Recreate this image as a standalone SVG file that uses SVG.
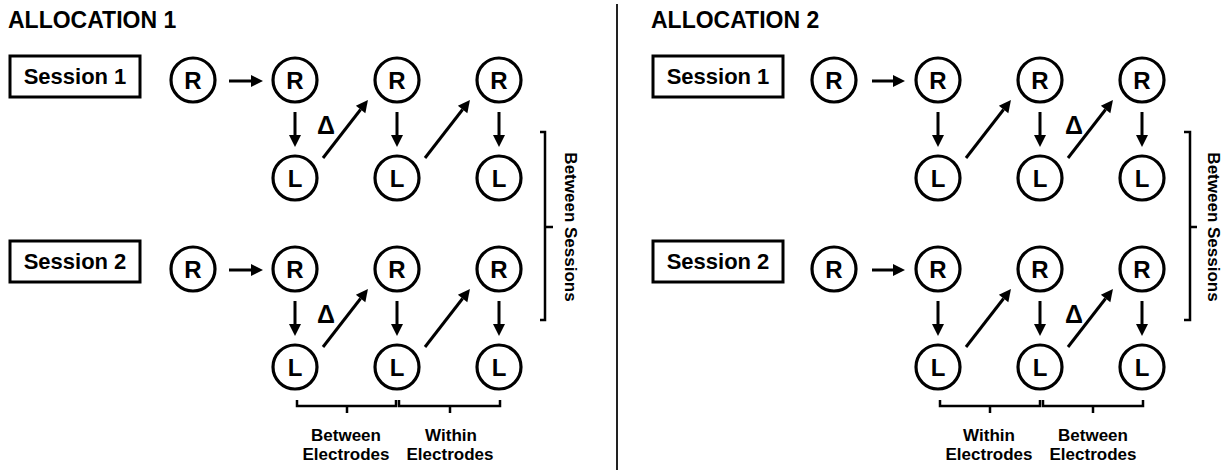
<svg xmlns="http://www.w3.org/2000/svg" width="1228" height="470" viewBox="0 0 1228 470">
  <style>
    text { font-family: "Liberation Sans", Arial, sans-serif; font-weight: bold; fill: #000; }
    .title { font-size: 23px; }
    .sess { font-size: 22px; text-anchor: middle; }
    .node { font-size: 24px; text-anchor: middle; }
    .delta { font-size: 25px; text-anchor: middle; }
    .lbl { font-size: 17px; text-anchor: middle; }
    .box { fill: #fff; stroke: #000; stroke-width: 3; }
    .circ { fill: #fff; stroke: #000; stroke-width: 3.2; }
    .arr { stroke: #000; stroke-width: 3; fill: none; marker-end: url(#head); }
    .brk { stroke: #000; stroke-width: 2.5; fill: none; }
  </style>
  <defs>
    <marker id="head" markerUnits="userSpaceOnUse" markerWidth="12" markerHeight="12" viewBox="0 -6 12 12" refX="0" refY="0" orient="auto" overflow="visible">
      <path d="M0,-6 L12,0 L0,6 z" fill="#000"/>
    </marker>
  </defs>

  <rect width="1228" height="470" fill="#fff"/>

  <!-- panel divider -->
  <line x1="617" y1="4" x2="617" y2="470" stroke="#222" stroke-width="2"/>

  <!-- titles -->
  <text class="title" x="8" y="28">ALLOCATION 1</text>
  <text class="title" x="651" y="28">ALLOCATION 2</text>

  <!-- session labels -->
  <g id="a1-session1"><rect class="box" x="10" y="56" width="130" height="41"/><text class="sess" x="75" y="84">Session 1</text></g>
  <g id="a1-session2"><rect class="box" x="10" y="241" width="130" height="41"/><text class="sess" x="75" y="269">Session 2</text></g>
  <g id="a2-session1"><rect class="box" x="653" y="56" width="130" height="41"/><text class="sess" x="718" y="84">Session 1</text></g>
  <g id="a2-session2"><rect class="box" x="653" y="241" width="130" height="41"/><text class="sess" x="718" y="269">Session 2</text></g>

  <!-- Allocation 1, session 1 nodes -->
  <g id="a1-s1-r0"><circle class="circ" cx="193" cy="80" r="22"/><text class="node" x="193" y="88.5">R</text></g>
  <g id="a1-s1-r1"><circle class="circ" cx="295" cy="80" r="22"/><text class="node" x="295" y="88.5">R</text></g>
  <g id="a1-s1-r2"><circle class="circ" cx="397" cy="80" r="22"/><text class="node" x="397" y="88.5">R</text></g>
  <g id="a1-s1-r3"><circle class="circ" cx="499" cy="80" r="22"/><text class="node" x="499" y="88.5">R</text></g>
  <g id="a1-s1-l1"><circle class="circ" cx="295" cy="178" r="22"/><text class="node" x="295" y="186.5">L</text></g>
  <g id="a1-s1-l2"><circle class="circ" cx="397" cy="178" r="22"/><text class="node" x="397" y="186.5">L</text></g>
  <g id="a1-s1-l3"><circle class="circ" cx="499" cy="178" r="22"/><text class="node" x="499" y="186.5">L</text></g>

  <!-- Allocation 1, session 2 nodes -->
  <g id="a1-s2-r0"><circle class="circ" cx="193" cy="269" r="22"/><text class="node" x="193" y="277.5">R</text></g>
  <g id="a1-s2-r1"><circle class="circ" cx="295" cy="269" r="22"/><text class="node" x="295" y="277.5">R</text></g>
  <g id="a1-s2-r2"><circle class="circ" cx="397" cy="269" r="22"/><text class="node" x="397" y="277.5">R</text></g>
  <g id="a1-s2-r3"><circle class="circ" cx="499" cy="269" r="22"/><text class="node" x="499" y="277.5">R</text></g>
  <g id="a1-s2-l1"><circle class="circ" cx="295" cy="367" r="22"/><text class="node" x="295" y="375.5">L</text></g>
  <g id="a1-s2-l2"><circle class="circ" cx="397" cy="367" r="22"/><text class="node" x="397" y="375.5">L</text></g>
  <g id="a1-s2-l3"><circle class="circ" cx="499" cy="367" r="22"/><text class="node" x="499" y="375.5">L</text></g>

  <!-- Allocation 2, session 1 nodes -->
  <g id="a2-s1-r0"><circle class="circ" cx="834" cy="80" r="22"/><text class="node" x="834" y="88.5">R</text></g>
  <g id="a2-s1-r1"><circle class="circ" cx="938" cy="80" r="22"/><text class="node" x="938" y="88.5">R</text></g>
  <g id="a2-s1-r2"><circle class="circ" cx="1040" cy="80" r="22"/><text class="node" x="1040" y="88.5">R</text></g>
  <g id="a2-s1-r3"><circle class="circ" cx="1142" cy="80" r="22"/><text class="node" x="1142" y="88.5">R</text></g>
  <g id="a2-s1-l1"><circle class="circ" cx="938" cy="178" r="22"/><text class="node" x="938" y="186.5">L</text></g>
  <g id="a2-s1-l2"><circle class="circ" cx="1040" cy="178" r="22"/><text class="node" x="1040" y="186.5">L</text></g>
  <g id="a2-s1-l3"><circle class="circ" cx="1142" cy="178" r="22"/><text class="node" x="1142" y="186.5">L</text></g>

  <!-- Allocation 2, session 2 nodes -->
  <g id="a2-s2-r0"><circle class="circ" cx="834" cy="269" r="22"/><text class="node" x="834" y="277.5">R</text></g>
  <g id="a2-s2-r1"><circle class="circ" cx="938" cy="269" r="22"/><text class="node" x="938" y="277.5">R</text></g>
  <g id="a2-s2-r2"><circle class="circ" cx="1040" cy="269" r="22"/><text class="node" x="1040" y="277.5">R</text></g>
  <g id="a2-s2-r3"><circle class="circ" cx="1142" cy="269" r="22"/><text class="node" x="1142" y="277.5">R</text></g>
  <g id="a2-s2-l1"><circle class="circ" cx="938" cy="367" r="22"/><text class="node" x="938" y="375.5">L</text></g>
  <g id="a2-s2-l2"><circle class="circ" cx="1040" cy="367" r="22"/><text class="node" x="1040" y="375.5">L</text></g>
  <g id="a2-s2-l3"><circle class="circ" cx="1142" cy="367" r="22"/><text class="node" x="1142" y="375.5">L</text></g>

  <!-- connectors: each line stops at the arrowhead base, the marker draws the head -->
  <g id="connectors">
    <!-- Allocation 1 -->
    <line class="arr" x1="229" y1="81" x2="251" y2="81"/>
    <line class="arr" x1="295" y1="112" x2="295" y2="135"/>
    <line class="arr" x1="323" y1="158" x2="360.6" y2="109.5"/>
    <line class="arr" x1="397" y1="112" x2="397" y2="135"/>
    <line class="arr" x1="425" y1="158" x2="462.6" y2="109.5"/>
    <line class="arr" x1="499" y1="112" x2="499" y2="135"/>

    <line class="arr" x1="229" y1="270" x2="251" y2="270"/>
    <line class="arr" x1="295" y1="301" x2="295" y2="324"/>
    <line class="arr" x1="323" y1="347" x2="360.6" y2="298.5"/>
    <line class="arr" x1="397" y1="301" x2="397" y2="324"/>
    <line class="arr" x1="425" y1="347" x2="462.6" y2="298.5"/>
    <line class="arr" x1="499" y1="301" x2="499" y2="324"/>

    <!-- Allocation 2 -->
    <line class="arr" x1="872" y1="81" x2="893" y2="81"/>
    <line class="arr" x1="938" y1="112" x2="938" y2="135"/>
    <line class="arr" x1="966" y1="158" x2="1003.6" y2="109.5"/>
    <line class="arr" x1="1040" y1="112" x2="1040" y2="135"/>
    <line class="arr" x1="1068" y1="158" x2="1105.6" y2="109.5"/>
    <line class="arr" x1="1142" y1="112" x2="1142" y2="135"/>

    <line class="arr" x1="872" y1="270" x2="893" y2="270"/>
    <line class="arr" x1="938" y1="301" x2="938" y2="324"/>
    <line class="arr" x1="966" y1="347" x2="1003.6" y2="298.5"/>
    <line class="arr" x1="1040" y1="301" x2="1040" y2="324"/>
    <line class="arr" x1="1068" y1="347" x2="1105.6" y2="298.5"/>
    <line class="arr" x1="1142" y1="301" x2="1142" y2="324"/>
  </g>

  <!-- change markers -->
  <text class="delta" x="326" y="134">Δ</text>
  <text class="delta" x="326" y="323">Δ</text>
  <text class="delta" x="1074" y="134">Δ</text>
  <text class="delta" x="1074" y="323">Δ</text>

  <!-- between-sessions brackets -->
  <g id="a1-between-sessions">
    <path class="brk" d="M540,132 H545 V320 H540 M545,227 H553"/>
    <text class="lbl" transform="translate(565,227) rotate(90)">Between Sessions</text>
  </g>
  <g id="a2-between-sessions">
    <path class="brk" d="M1184,132 H1190 V320 H1184 M1190,227 H1197"/>
    <text class="lbl" transform="translate(1208,227) rotate(90)">Between Sessions</text>
  </g>

  <!-- electrode brackets -->
  <g id="a1-between-electrodes">
    <path class="brk" d="M297,400 V406 H396 V400 M347,406 V413"/>
    <text class="lbl" x="346" y="441">Between</text>
    <text class="lbl" x="346" y="460">Electrodes</text>
  </g>
  <g id="a1-within-electrodes">
    <path class="brk" d="M399,400 V406 H500 V400 M450,406 V413"/>
    <text class="lbl" x="451" y="441">Within</text>
    <text class="lbl" x="450" y="460">Electrodes</text>
  </g>
  <g id="a2-within-electrodes">
    <path class="brk" d="M940,400 V406 H1040 V400 M990,406 V413"/>
    <text class="lbl" x="989" y="441">Within</text>
    <text class="lbl" x="989" y="460">Electrodes</text>
  </g>
  <g id="a2-between-electrodes">
    <path class="brk" d="M1043,400 V406 H1143 V400 M1093,406 V413"/>
    <text class="lbl" x="1093" y="441">Between</text>
    <text class="lbl" x="1093" y="460">Electrodes</text>
  </g>
</svg>
